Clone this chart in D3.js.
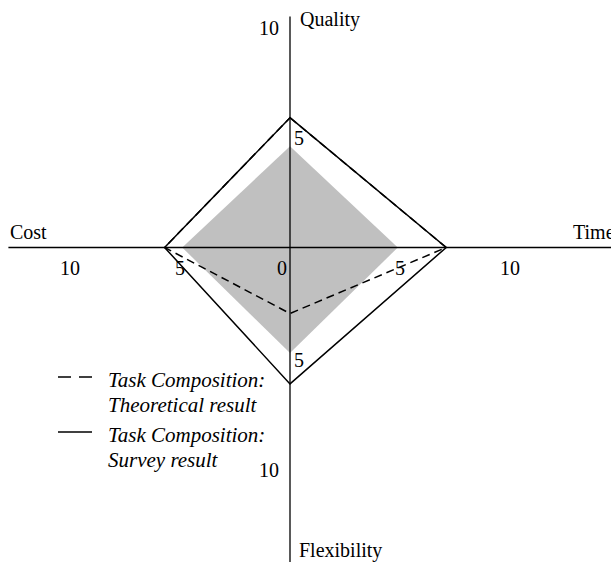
<!DOCTYPE html>
<html>
<head>
<meta charset="utf-8">
<script src="https://cdn.jsdelivr.net/npm/d3@7"></script>
<style>
  html, body { margin: 0; padding: 0; background: #fff; }
  svg { display: block; }
  text { font-family: "Liberation Serif", "Times New Roman", serif; font-size: 20px; fill: #000; }
</style>
</head>
<body>
<svg id="chart" width="611" height="563"></svg>
<script>
// ---- data ----
const axesNames = ["Quality", "Time", "Flexibility", "Cost"];
const benchmarkValues = [4.6, 4.9, 4.8, 4.9];      // grey area
const theoreticalValues = [5.9, 7.1, 3.0, 5.7];    // dashed
const surveyValues = [5.9, 7.1, 6.2, 5.7];         // solid
const tickValues = [5, 10];
const legendLabels = [
  ["Task Composition:", "Theoretical result"],
  ["Task Composition:", "Survey result"]
];

// ---- layout ----
const svg = d3.select("#chart");
const cx = 290, cy = 247.5;
const r = d3.scaleLinear().domain([0, 10]).range([0, 220]);
const angles = [0, Math.PI / 2, Math.PI, 3 * Math.PI / 2];
const g = svg.append("g").attr("transform", `translate(${cx},${cy})`);

const radial = d3.lineRadial()
  .angle((d, i) => angles[i])
  .radius(d => r(d))
  .curve(d3.curveLinearClosed);

// grey area
g.append("path")
  .attr("d", radial(benchmarkValues))
  .attr("fill", "#c0c0c0")
  .attr("stroke", "none");

// axes
const axisExtent = { Quality: 10.5, Time: 14.6, Flexibility: 14.3, Cost: 12.8 };
g.append("line").attr("x1", -r(axisExtent.Cost)).attr("x2", r(axisExtent.Time))
  .attr("y1", 0).attr("y2", 0).attr("stroke", "#000").attr("stroke-width", 1.3);
g.append("line").attr("y1", -r(axisExtent.Quality)).attr("y2", r(axisExtent.Flexibility))
  .attr("x1", 0).attr("x2", 0).attr("stroke", "#000").attr("stroke-width", 1.3);

// survey (solid)
g.append("path")
  .attr("d", radial(surveyValues))
  .attr("fill", "none").attr("stroke", "#000").attr("stroke-width", 1.5)
  .attr("stroke-linejoin", "miter");

// theoretical (dashed)
g.append("path")
  .attr("d", radial(theoreticalValues))
  .attr("fill", "none").attr("stroke", "#000").attr("stroke-width", 1.5)
  .attr("stroke-dasharray", "8,5");

// tick labels
tickValues.forEach(v => {
  g.append("text").attr("x", -r(v)).attr("y", 27.5).attr("text-anchor", "middle").text(v);
  g.append("text").attr("x", r(v)).attr("y", 27.5).attr("text-anchor", "middle").text(v);
  const small = v < 10;
  g.append("text").attr("x", small ? 4 : -11).attr("y", -r(v) + 7.5)
    .attr("text-anchor", small ? "start" : "end").text(v);
  g.append("text").attr("x", small ? 4 : -11).attr("y", r(v) + 9)
    .attr("text-anchor", small ? "start" : "end").text(v);
});
g.append("text").attr("x", -3).attr("y", 27.5).attr("text-anchor", "end").text(0);

// axis names
svg.append("text").attr("x", 300).attr("y", 26).text(axesNames[0]);
svg.append("text").attr("x", 573).attr("y", 239).text(axesNames[1]);
svg.append("text").attr("x", 299).attr("y", 557).text(axesNames[2]);
svg.append("text").attr("x", 10).attr("y", 239).text(axesNames[3]);

// legend
const legendY = [387, 442];
const dashes = ["13,8", null];
legendLabels.forEach((lines, i) => {
  const ln = svg.append("line")
    .attr("x1", 58).attr("x2", 92)
    .attr("y1", legendY[i] - 10).attr("y2", legendY[i] - 10)
    .attr("stroke", "#000").attr("stroke-width", 1.3);
  if (dashes[i]) ln.attr("stroke-dasharray", dashes[i]);
  lines.forEach((t, j) => {
    svg.append("text").attr("x", 108).attr("y", legendY[i] + j * 25)
      .style("font-style", "italic").style("font-size", "21px").text(t);
  });
});
</script>
</body>
</html>
